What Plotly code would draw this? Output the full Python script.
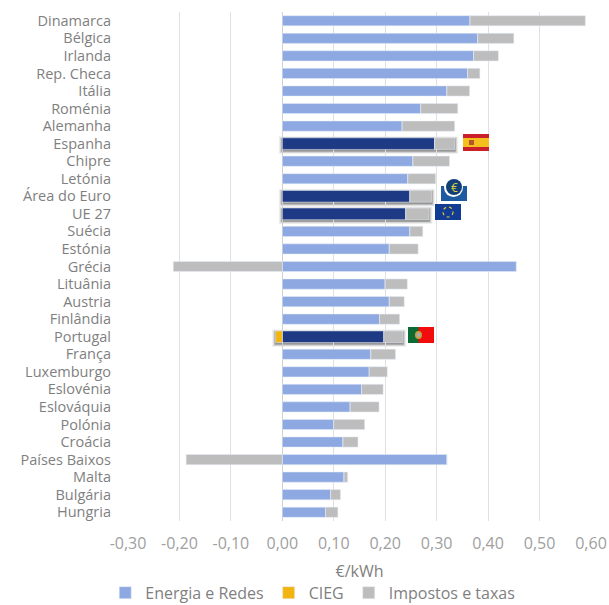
import plotly.graph_objects as go

countries = ["Dinamarca","Bélgica","Irlanda","Rep. Checa","Itália","Roménia","Alemanha","Espanha","Chipre","Letónia",
             "Área do Euro","UE 27","Suécia","Estónia","Grécia","Lituânia","Austria","Finlândia","Portugal","França",
             "Luxemburgo","Eslovénia","Eslováquia","Polónia","Croácia","Países Baixos","Malta","Bulgária","Hungria"]
energia = [.365,.380,.372,.360,.320,.269,.233,.296,.254,.244,.248,.240,.248,.208,.455,.200,.208,.189,.197,.172,.169,.154,.132,.100,.118,.320,.120,.094,.084]
cieg = [0]*18 + [-.013] + [0]*10
impostos = [.224,.070,.048,.024,.044,.072,.102,.039,.071,.054,.042,.045,.025,.056,-.212,.043,.029,.039,.037,.048,.035,.042,.056,.060,.029,-.187,.007,.019,.024]
tick_vals = [-.3,-.2,-.1,0,.1,.2,.3,.4,.5,.6]
tick_text = ["-0,30","-0,20","-0,10","0,00","0,10","0,20","0,30","0,40","0,50","0,60"]
highlighted = ["Espanha","Área do Euro","UE 27","Portugal"]

LIGHT, DARK, GOLD, GREY = "#8EA9E1", "#1F3A85", "#F2B50F", "#BDBDBD"
TXT = "#7F7F7F"
W, H = 609, 605
idx = list(range(len(countries)))
is_hl = [c in highlighted for c in countries]
widths = [.66 if h else .58 for h in is_hl]

fig = go.Figure()
fig.add_bar(name="Energia e Redes", y=idx, x=energia, orientation="h",
            marker_color=[DARK if h else LIGHT for h in is_hl], width=widths)
fig.add_bar(name="CIEG", y=idx, x=cieg, orientation="h", marker_color=GOLD, width=widths)
fig.add_bar(name="Impostos e taxas", y=idx, x=impostos, orientation="h", marker_color=GREY, width=widths)

shapes, annos = [], []
# soft shadow behind highlighted bars, derived from the data
for i, c in enumerate(countries):
    if c in highlighted:
        lo = min(0, cieg[i]); hi = energia[i] + max(0, impostos[i])
        for pad, op in ((.007, .05), (.005, .09), (.003, .14), (.0015, .2)):
            shapes.append(dict(type="rect", xref="x", yref="y", layer="below", line_width=0,
                               x0=lo - pad, x1=hi + pad,
                               y0=i - .33 - pad * 25 + .08, y1=i + .33 + pad * 25 + .08,
                               fillcolor=f"rgba(0,0,0,{op})"))

def px_rect(x0, y0, x1, y1, color, kind="rect", line=None):
    shapes.append(dict(type=kind, xref="paper", yref="paper", x0=(x0 - 128) / 463, x1=(x1 - 128) / 463,
                       y0=(521 - y1) / 509, y1=(521 - y0) / 509, fillcolor=color, layer="above",
                       line=line or dict(width=0)))

def px_text(x, y, text, color, size):
    annos.append(dict(xref="paper", yref="paper", x=(x - 128) / 463, y=(521 - y) / 509, text=text, showarrow=False,
                      font=dict(color=color, size=size, family="Open Sans"), xanchor="center", yanchor="middle"))

# Spain flag
px_rect(463, 134, 489, 151, "#C9202B")
px_rect(463, 138, 489, 147, "#F4C01E")
px_rect(469, 140, 474, 145, "#B5562A")
# Euro area emblem
px_rect(441, 186, 467, 201, "#1E5AA0")
px_rect(444, 178, 463, 197, "#FFFFFF", "circle")
px_rect(446, 179, 462, 195, "#123F78", "circle")
px_text(454, 187, "€", "#D9D23A", 12)
# EU flag
px_rect(435, 204, 461, 220, "#123C94")
px_rect(443, 207, 453, 217, "rgba(0,0,0,0)", "circle", dict(color="#D9C63A", width=1.2, dash="dot"))
# Portugal flag
px_rect(408, 327, 434, 343, "#F20D0D")
px_rect(408, 327, 418.5, 343, "#0B6B33")
px_rect(415, 331, 422, 339, "#C9A13B", "circle")
px_rect(417, 333, 420.5, 337, "#A9A9C9", "circle")

fig.update_layout(
    width=W, height=H, barmode="relative", bargap=.42, plot_bgcolor="white", paper_bgcolor="white",
    margin=dict(l=128, r=18, t=12, b=84, autoexpand=False),
    font=dict(family="Open Sans", color=TXT, size=15),
    shapes=shapes, annotations=annos,
    legend=dict(orientation="h", x=.399, xref="paper", xanchor="center", y=-.141, yref="paper", yanchor="middle",
                font=dict(size=16, color=TXT), itemwidth=30, traceorder="normal"),
    xaxis=dict(range=[-.3, .6], tickvals=tick_vals, ticktext=tick_text, showgrid=True, gridcolor="#E0E0E0", gridwidth=1.2,
               zeroline=True, zerolinecolor="#D0D0D0", zerolinewidth=1.2, showline=False, ticks="",
               tickfont=dict(size=16, color="#A0A0A0"), automargin=False, ticklabelstandoff=11,
               title=dict(text="€/kWh", font=dict(size=16, color=TXT), standoff=12)),
    yaxis=dict(range=[28.5, -.5], tickvals=idx, ticktext=countries, showgrid=False, zeroline=False, ticks="",
               tickfont=dict(size=14.5, color=TXT), ticklabelstandoff=16),
)
fig.write_html("out.html", config={"displayModeBar": False},
               post_script="document.documentElement.style.overflow='hidden';document.body.style.margin='0';")
